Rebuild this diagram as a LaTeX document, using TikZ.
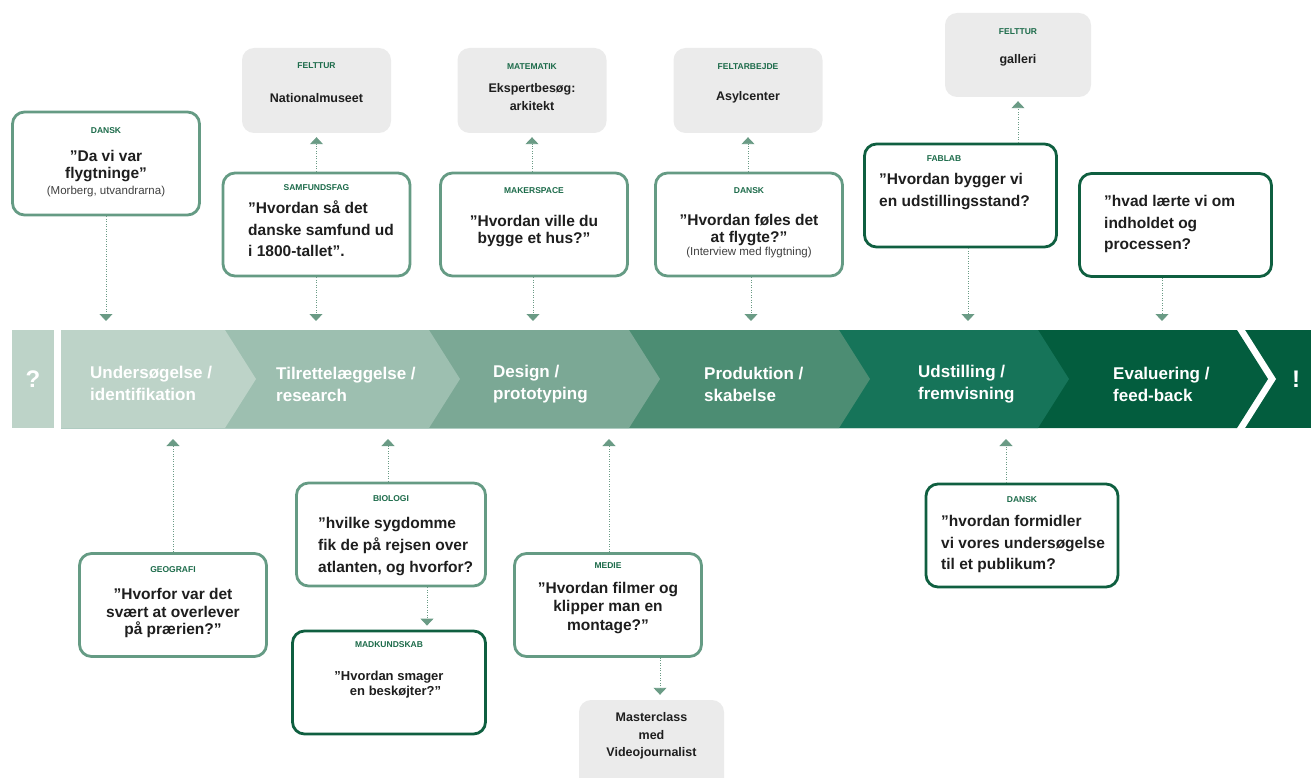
\documentclass[tikz,border=0pt]{standalone}
\usepackage{fontspec}
\setmainfont{Liberation Sans}
\usepackage{tikz}
\usetikzlibrary{
        arrows.meta,
        positioning
    }
\definecolor{ink}{HTML}{1E1E1E}
\definecolor{labelgreen}{HTML}{1C6B4A}
\definecolor{boxgreen}{HTML}{659B84}
\definecolor{boxdark}{HTML}{0F5F40}
\definecolor{linkgreen}{HTML}{6A9B85}
\definecolor{tripgray}{HTML}{EBEBEB}
\definecolor{segA}{HTML}{BDD3C8}
\definecolor{segB}{HTML}{9DBFB0}
\definecolor{segC}{HTML}{7BA895}
\definecolor{segD}{HTML}{4C8D73}
\definecolor{segE}{HTML}{167459}
\definecolor{segF}{HTML}{035D3E}

\begin{document}
\begin{tikzpicture}
[x=1pt, y=-1pt,
basebox/.style={rectangle, rounded corners=12pt, line width=2.8pt, fill=white, minimum width=187pt, minimum height=103pt, inner sep=0pt},
qbox/.style={basebox, draw=boxgreen},
qboxdark/.style={basebox, draw=boxdark},
tripbox/.style={rectangle, rounded corners=12pt, fill=tripgray, minimum width=149pt, minimum height=85pt, inner sep=0pt},
subject/.style={font=\bfseries\fontsize{8.5}{10}\selectfont, text=labelgreen, inner sep=0pt},
question/.style={font=\bfseries\fontsize{15.5}{#1}\selectfont, text=ink, inner sep=0pt},
question/.default=21.5,
note/.style={font=\fontsize{11.5}{13}\selectfont, text=ink!85, inner sep=0pt},
trip/.style={font=\bfseries\fontsize{12.5}{18}\selectfont, text=ink, inner sep=0pt, align=center},
stage/.style={font=\bfseries\fontsize{17}{22}\selectfont, text=white, inner sep=0pt, align=left, anchor=west},
endmark/.style={font=\bfseries\fontsize{24}{26}\selectfont, text=white, inner sep=0pt},
link/.style={draw=linkgreen, line width=0.9pt, dash pattern=on 1pt off 1.5pt, -{Triangle[width=13pt,length=7pt]}},
]
    \useasboundingbox (0,0) rectangle (1311,778);

    % the process band
    \fill[segF] (61,330) rectangle (1311,428);
    \fill[white] (61,330) -- (1245,330) -- (1276,379) -- (1245,428) -- (61,428) -- cycle;
    \fill[segF] (61,330) -- (1237,330) -- (1268,379) -- (1237,428) -- (61,428) -- cycle;
    \fill[segE] (61,330) -- (1038,330) -- (1069,379) -- (1038,428) -- (61,428) -- cycle;
    \fill[segD] (61,330) -- (839,330) -- (870,379) -- (839,428) -- (61,428) -- cycle;
    \fill[segC] (61,330) -- (629,330) -- (660,379) -- (629,428) -- (61,428) -- cycle;
    \fill[segB] (61,330) -- (429,330) -- (460,379) -- (429,428) -- (61,428) -- cycle;
    \fill[segA] (61,330) -- (225,330) -- (256,379) -- (225,428) -- (61,428) -- cycle;
    \fill[segA] (12,330) rectangle (54,428);

    \node[endmark] (start) at (33,379) {?};
    \node[stage] (stage1) at (90,383) {Undersøgelse /\\identifikation};
    \node[stage] (stage2) at (276,384) {Tilrettelæggelse /\\research};
    \node[stage] (stage3) at (493,384) {Design /\\prototyping};
    \node[stage] (stage4) at (704,384) {Produktion /\\skabelse};
    \node[stage] (stage5) at (918,384) {Udstilling /\\fremvisning};
    \node[stage] (stage6) at (1113,384) {Evaluering /\\feed-back};
    \node[endmark] (finish) at (1296,379) {!};

    \coordinate (inA) at (106,321);
    \coordinate (inB) at (316,321);
    \coordinate (inC) at (533,321);
    \coordinate (inD) at (751,321);
    \coordinate (inE) at (968,321);
    \coordinate (inF) at (1162,321);
    \coordinate (outA) at (173,439);
    \coordinate (outB) at (388,439);
    \coordinate (outC) at (609,439);
    \coordinate (outD) at (1006,439);

    % trips and visits
    \node (natmus) [tripbox] at (316.5,90.5) {};
    \node[subject, below=15pt of natmus.north] {FELTTUR};
    \node[trip] at (316.5,98) {Nationalmuseet};
    \node (matem) [tripbox] at (532,90.5) {};
    \node[subject, below=16pt of matem.north] {MATEMATIK};
    \node[trip] at (532,97.5) {Ekspertbesøg:\\arkitekt};
    \node (asyl) [tripbox] at (748,90.5) {};
    \node[subject, below=16pt of asyl.north] {FELTARBEJDE};
    \node[trip] at (748,97) {Asylcenter};
    \node (galleri) [tripbox, minimum width=146pt, minimum height=84pt] at (1018,55) {};
    \node[subject, below=16pt of galleri.north] {FELTTUR};
    \node[trip] at (1018,60) {galleri};
    \node (master) [tripbox, minimum width=145pt, minimum height=90pt] at (651.5,745) {};
    \node[trip, font=\bfseries\fontsize{12.5}{17.5}\selectfont] at (651.5,736) {Masterclass\\med\\Videojournalist};

    % questions above the band
    \node (dansk1) [qbox] at (106,163.5) {};
    \node[subject, below=17pt of dansk1.north] {DANSK};
    \node[question=17, align=center] at (106,166) {”Da vi var\\flygtninge”};
    \node[note] at (106,192) {(Morberg, utvandrarna)};

    \node (samf) [qbox] at (316.5,224.5) {};
    \node[subject, below=13pt of samf.north] {SAMFUNDSFAG};
    \node[question, align=left, anchor=west] at (248,229) {”Hvordan så det\\danske samfund ud\\i 1800-tallet”.};

    \node (maker) [qbox] at (534,224.5) {};
    \node[subject, below=16pt of maker.north] {MAKERSPACE};
    \node[question=17, align=center] at (534,231) {”Hvordan ville du\\bygge et hus?”};

    \node (dansk2) [qbox] at (749,224.5) {};
    \node[subject, below=16pt of dansk2.north] {DANSK};
    \node[question=17, align=center] at (749,230) {”Hvordan føles det\\at flygte?”};
    \node[note] at (749,253) {(Interview med flygtning)};

    \node (fablab) [qboxdark, minimum width=192pt] at (960.5,195.5) {};
    \node[subject] at (944,159) {FABLAB};
    \node[question=22, align=left, anchor=west] at (879,192) {”Hvordan bygger vi\\en udstillingsstand?};

    \node (evalq) [qboxdark, minimum width=192pt] at (1175.5,225) {};
    \node[question, align=left, anchor=west] at (1104,224) {”hvad lærte vi om\\indholdet og\\processen?};

    % questions below the band
    \node (geo) [qbox] at (173,605) {};
    \node[subject, below=14pt of geo.north] {GEOGRAFI};
    \node[question=17.5, align=center] at (173,613) {”Hvorfor var det\\svært at overlever\\på prærien?”};

    \node (bio) [qbox, minimum width=189pt] at (391,534.5) {};
    \node[subject, below=14pt of bio.north] {BIOLOGI};
    \node[question=22, align=left, anchor=west] at (318,547) {”hvilke sygdomme\\fik de på rejsen over\\atlanten, og hvorfor?};

    \node (mad) [qboxdark, minimum width=193pt] at (389,682.5) {};
    \node[subject, below=12pt of mad.north] {MADKUNDSKAB};
    \node[question, font=\bfseries\fontsize{13}{15}\selectfont, align=center] at (389,685) {”Hvordan smager\\\hspace*{1em}en beskøjter?”};

    \node (medie) [qbox] at (608,605) {};
    \node[subject, below=10pt of medie.north] {MEDIE};
    \node[question=18.5, align=center] at (608,608) {”Hvordan filmer og\\klipper man en\\montage?”};

    \node (dansk3) [qboxdark, minimum width=192pt] at (1022,535.5) {};
    \node[subject, below=14pt of dansk3.north] {DANSK};
    \node[question, align=left, anchor=west] at (941,544) {”hvordan formidler\\vi vores undersøgelse\\til et publikum?};

    % connectors
    \draw[link] (dansk1.south -| inA) -- (inA);
    \draw[link] (samf.south -| inB) -- (inB);
    \draw[link] (maker.south -| inC) -- (inC);
    \draw[link] (dansk2.south -| inD) -- (inD);
    \draw[link] (fablab.south -| inE) -- (inE);
    \draw[link] (evalq.south -| inF) -- (inF);
    \draw[link, shorten >=4pt] (samf.north -| natmus.south) -- (natmus.south);
    \draw[link, shorten >=4pt] (maker.north -| matem.south) -- (matem.south);
    \draw[link, shorten >=4pt] (dansk2.north -| asyl.south) -- (asyl.south);
    \draw[link, shorten >=4pt] (fablab.north -| galleri.south) -- (galleri.south);
    \draw[link] (geo.north -| outA) -- (outA);
    \draw[link] (bio.north -| outB) -- (outB);
    \draw[link] (medie.north -| outC) -- (outC);
    \draw[link] (dansk3.north -| outD) -- (outD);
    \draw[link, shorten >=4pt] ([xshift=36pt]bio.south) -- ([xshift=36pt]bio.south |- mad.north);
    \draw[link, shorten >=5pt] ([xshift=52pt]medie.south) -- ([xshift=52pt]medie.south |- master.north);
\end{tikzpicture}
\end{document}
